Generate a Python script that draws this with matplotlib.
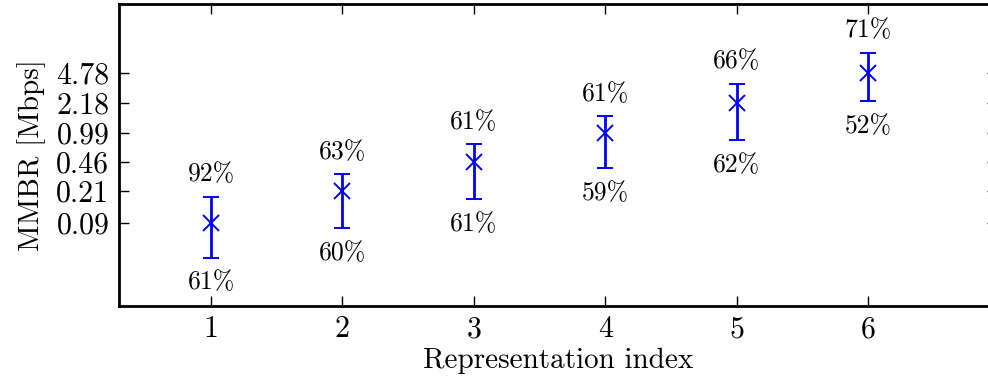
import matplotlib
matplotlib.use("Agg")
import matplotlib.pyplot as plt
import numpy as np

plt.rcParams['font.family'] = ['cmr10', 'DejaVu Serif']
plt.rcParams['axes.unicode_minus'] = False

# data
reps = [1, 2, 3, 4, 5, 6]
mmbr = [0.09, 0.21, 0.46, 0.99, 2.18, 4.78]
upper = [0.18, 0.33, 0.73, 1.54, 3.6, 8.2]
lower = [0.036, 0.079, 0.17, 0.39, 0.82, 2.29]
pct_top = ["92%", "63%", "61%", "61%", "66%", "71%"]
pct_bottom = ["61%", "60%", "61%", "59%", "62%", "52%"]
ytick_labels = ["0.09", "0.21", "0.46", "0.99", "2.18", "4.78"]

fig = plt.figure(figsize=(9.88, 3.8), dpi=100)
# right spine sits just past the image edge, as in the original
ax = fig.add_axes([119 / 988, 1 - 306 / 380, 878 / 988, 302 / 380])

yerr = [np.array(mmbr) - np.array(lower), np.array(upper) - np.array(mmbr)]
ax.errorbar(reps, mmbr, yerr=yerr, fmt='x', color='#0000ff', ecolor='#0000ff',
            markersize=12, markeredgewidth=1.4, elinewidth=2, capsize=6, capthick=1.8)

# percentage labels above and below each bar
for x, hi, lo, t, b in zip(reps, upper, lower, pct_top, pct_bottom):
    ax.annotate(t, (x, hi), xytext=(0, 16), textcoords='offset points',
                ha='center', va='center', fontsize=18.5)
    ax.annotate(b, (x, lo), xytext=(0, -18), textcoords='offset points',
                ha='center', va='center', fontsize=18.5)

ax.set_yscale('log')
ax.set_ylim(0.01, 30)
ax.set_xlim(0.3, 6.98)
ax.set_yticks(mmbr)
ax.set_yticklabels(ytick_labels)
ax.yaxis.set_minor_locator(matplotlib.ticker.NullLocator())
ax.set_xticks(reps)
ax.set_xticklabels([str(r) for r in reps])

ax.tick_params(direction='in', length=7, width=1, labelsize=21.5, pad=7,
               top=True, right=True)
for s in ax.spines.values():
    s.set_linewidth(2)

ax.set_xlabel("Representation index", fontsize=21, labelpad=3)
ax.set_ylabel("MMBR [Mbps]", fontsize=21, labelpad=7)

fig.savefig("out.png", dpi=100)
